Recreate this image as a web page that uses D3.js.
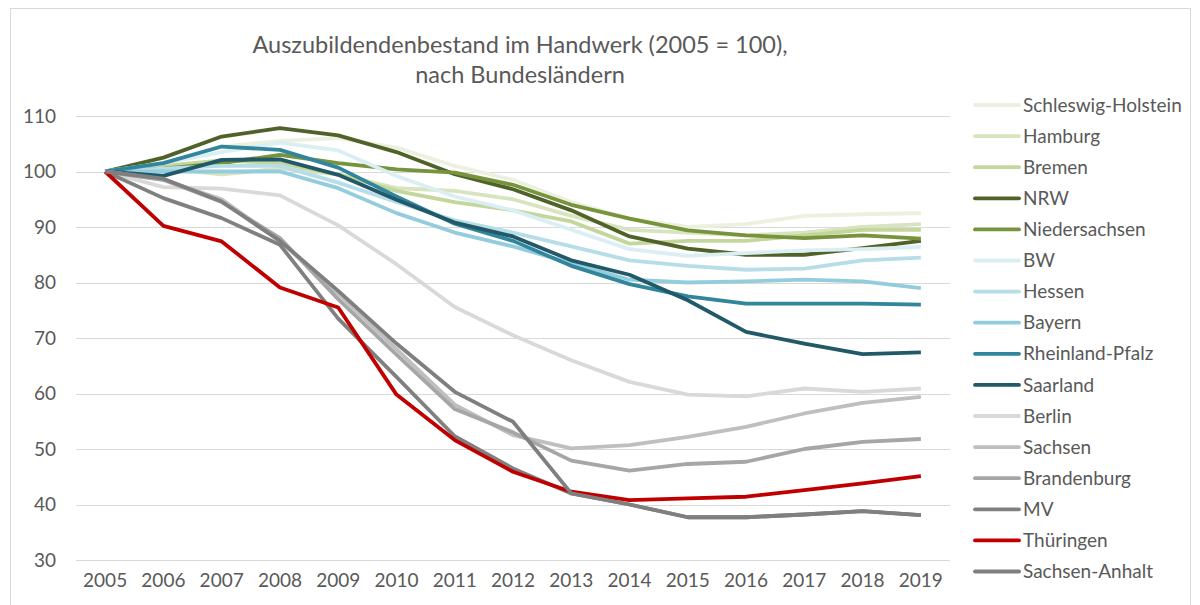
<!DOCTYPE html>
<html>
<head>
<meta charset="utf-8">
<script src="https://cdn.jsdelivr.net/npm/d3@7"></script>
<style>
  body { margin: 0; background: #fff; }
  svg { font-family: Lato, "Open Sans", sans-serif; }
</style>
</head>
<body>
<svg id="chart" width="1200" height="605"></svg>
<script>
const years = [2005, 2006, 2007, 2008, 2009, 2010, 2011, 2012, 2013, 2014, 2015, 2016, 2017, 2018, 2019];
const yTicks = [30, 40, 50, 60, 70, 80, 90, 100, 110];

const schleswigHolstein = [100, 101.5, 104.5, 105.5, 106, 104.3, 101, 98.5, 94.5, 91.5, 90, 90.5, 92, 92.3, 92.5];
const hamburg = [100, 100.5, 99.5, 100.5, 99.5, 97, 96.5, 95, 92, 89.5, 89, 88.5, 89, 90, 90.5];
const bremen = [100, 101, 102, 101.5, 99.5, 96.5, 94.5, 93, 91, 87, 87.5, 87.5, 88.5, 89.5, 89.5];
const nrw = [100, 102.5, 106.3, 107.8, 106.5, 103.5, 99.5, 96.8, 93, 88.3, 86.1, 85, 85, 86.2, 87.5];
const niedersachsen = [100, 100.5, 101.5, 103, 101.5, 100.4, 99.8, 97.6, 94, 91.5, 89.4, 88.5, 88, 88.5, 87.9];
const bw = [100, 101.5, 103.5, 105.2, 103.8, 99.2, 95.5, 93, 89.5, 86, 84.8, 85.3, 85.8, 86, 86.4];
const hessen = [100, 100.5, 101, 101, 98, 94.5, 91.2, 89, 86.5, 84, 83, 82.3, 82.5, 84, 84.5];
const bayern = [100, 100, 100, 100, 97, 92.5, 89, 86.5, 83.5, 80.5, 80, 80.2, 80.5, 80.2, 79];
const rheinlandPfalz = [100, 101.5, 104.5, 103.9, 100.7, 95.5, 90.6, 87.5, 83, 79.7, 77.5, 76.2, 76.2, 76.2, 76];
const saarland = [100, 99.2, 102.1, 102.2, 99.4, 94.9, 90.8, 88.3, 84, 81.4, 76.8, 71.1, 69, 67.1, 67.4];
const berlin = [100, 97.2, 96.9, 95.7, 90.3, 83.3, 75.6, 70.5, 66, 62.1, 59.8, 59.5, 60.9, 60.3, 60.9];
const sachsen = [100, 98.5, 95, 87.5, 78, 68, 58, 52.5, 50.1, 50.7, 52.2, 54, 56.4, 58.3, 59.4];
const brandenburg = [100, 98.5, 94.5, 88, 77, 67, 57.2, 53, 47.9, 46.1, 47.3, 47.7, 50, 51.3, 51.8];
const mv = [100, 95.2, 91.6, 86.8, 73.5, 63, 52.3, 46.5, 42, 40, 37.7, 37.7, 38.2, 38.8, 38.1];
const thueringen = [100, 90.2, 87.4, 79.1, 75.5, 59.8, 51.6, 45.9, 42.3, 40.8, 41.1, 41.4, 42.6, 43.8, 45.1];
const sachsenAnhalt = [100, 98.7, 94.6, 87.5, 78.5, 69, 60.3, 54.9, 42, 40, 37.7, 37.7, 38.2, 38.8, 38.1];

const seriesNames = ["Schleswig-Holstein", "Hamburg", "Bremen", "NRW", "Niedersachsen", "BW", "Hessen", "Bayern",
  "Rheinland-Pfalz", "Saarland", "Berlin", "Sachsen", "Brandenburg", "MV", "Thüringen", "Sachsen-Anhalt"];
const seriesValues = [schleswigHolstein, hamburg, bremen, nrw, niedersachsen, bw, hessen, bayern,
  rheinlandPfalz, saarland, berlin, sachsen, brandenburg, mv, thueringen, sachsenAnhalt];
const seriesColors = ["#ebf1de", "#d7e4bd", "#c3d69b", "#4f6228", "#77933c", "#dbeef4", "#b7dde8", "#93cddd",
  "#31859c", "#215968", "#d9d9d9", "#bfbfbf", "#a6a6a6", "#808080", "#c00000", "#7f7f7f"];

const svg = d3.select("#chart");
const textColor = "#595959";

// chart frame
svg.append("rect")
  .attr("x", 10.5).attr("y", 8.5)
  .attr("width", 1180).attr("height", 610)
  .attr("fill", "none").attr("stroke", "#d9d9d9");

const plot = { left: 76, right: 950, top: 116, bottom: 560 };

const x = d3.scaleBand().domain(years).range([plot.left, plot.right]);
const y = d3.scaleLinear().domain([30, 110]).range([plot.bottom, plot.top]);

// gridlines
svg.append("g").selectAll("line").data(yTicks).join("line")
  .attr("x1", plot.left).attr("x2", plot.right)
  .attr("y1", d => Math.round(y(d)) + 0.5).attr("y2", d => Math.round(y(d)) + 0.5)
  .attr("stroke", "#d9d9d9").attr("stroke-width", 1.2);

// y axis labels
svg.append("g").selectAll("text").data(yTicks).join("text")
  .attr("x", 56).attr("y", d => y(d))
  .attr("dy", "0.35em").attr("text-anchor", "end")
  .attr("fill", textColor).style("font-size", "19px")
  .text(d => d);

// x axis labels
svg.append("g").selectAll("text").data(years).join("text")
  .attr("x", d => x(d) + x.bandwidth() / 2).attr("y", 587)
  .attr("text-anchor", "middle")
  .attr("fill", textColor).style("font-size", "19px")
  .text(d => d);

const line = d3.line()
  .x((d, i) => x(years[i]) + x.bandwidth() / 2)
  .y(d => y(d));

svg.append("g").selectAll("path").data(seriesValues).join("path")
  .attr("d", d => line(d))
  .attr("fill", "none")
  .attr("stroke", (d, i) => seriesColors[i])
  .attr("stroke-width", 3.8)
  .attr("stroke-linejoin", "round");

// title
const title = svg.append("text")
  .attr("x", 520).attr("text-anchor", "middle")
  .attr("fill", textColor).style("font-size", "23.5px");
title.append("tspan").attr("x", 520).attr("y", 53).text("Auszubildendenbestand im Handwerk (2005 = 100),");
title.append("tspan").attr("x", 520).attr("y", 83).text("nach Bundesländern");

// legend
const legend = svg.append("g").selectAll("g").data(seriesNames).join("g")
  .attr("transform", (d, i) => `translate(975,${105 + i * 31.1})`);
legend.append("line")
  .attr("x1", 0).attr("x2", 44)
  .attr("stroke", (d, i) => seriesColors[i])
  .attr("stroke-width", 3.8).attr("stroke-linecap", "round");
legend.append("text")
  .attr("x", 48).attr("dy", "0.35em")
  .attr("fill", textColor).style("font-size", "19px")
  .text(d => d);
</script>
</body>
</html>
